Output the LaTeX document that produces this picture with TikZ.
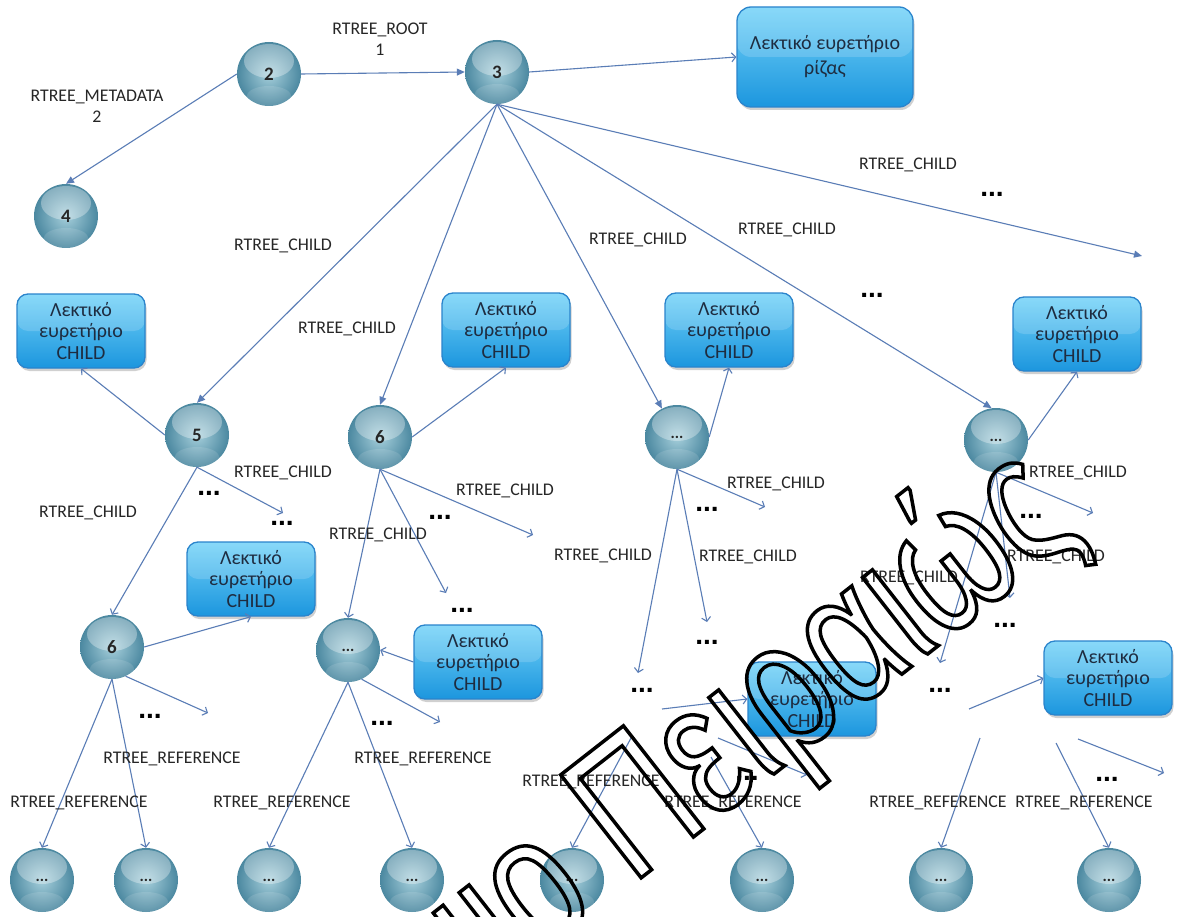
\documentclass[tikz,border=0pt]{standalone}
\usepackage{fontspec}
\setmainfont{Carlito}
\newfontfamily\dotfont{Liberation Sans}
\newfontfamily\markfont[FakeStretch=0.75]{Liberation Sans}
\usetikzlibrary{arrows.meta,shadows}

\definecolor{linkblue}{HTML}{5A7DB6}
\definecolor{balllight}{HTML}{A6CFDB}
\definecolor{balldark}{HTML}{4B88A0}
\definecolor{boxtop}{HTML}{72D2F8}
\definecolor{boxbot}{HTML}{1C96DE}
\definecolor{boxedge}{HTML}{2A84CC}
\definecolor{boxtext}{HTML}{1E2C40}

% hollow (stroked) text for the university mark
\newcommand\hollowtext[1]{\special{pdf:literal direct 1 Tr 3.5 w 0 0 0 RG}#1\special{pdf:literal direct 0 Tr}}

\tikzset{
  ball/.style={circle, minimum size=64pt, inner sep=0pt,
    inner color=balllight, outer color=balldark,
    font=\fontsize{19}{21}\selectfont\bfseries, text=black!85,
    path picture={
      \fill[white,opacity=0.32] ([yshift=13pt]path picture bounding box.center)
        ellipse [x radius=25pt, y radius=17pt];
      \fill[white,opacity=0.12] ([yshift=-22pt]path picture bounding box.center)
        ellipse [x radius=22pt, y radius=10pt];
    }},
  smallball/.style={ball, font=\fontsize{16}{18}\selectfont\bfseries},
  cbox/.style={rounded corners=11pt, draw=boxedge, line width=1.3pt,
    top color=boxtop, bottom color=boxbot,
    minimum width=128pt, minimum height=74pt, inner sep=2pt,
    align=center, text=boxtext, font=\fontsize{20}{21.5}\selectfont,
    drop shadow={shadow xshift=1.5pt, shadow yshift=-3pt, opacity=0.3, fill=black!60},
    path picture={
      \fill[white,opacity=0.16] (path picture bounding box.north west)
        rectangle (path picture bounding box.east);
    }},
  rootbox/.style={cbox, minimum width=176pt, minimum height=100pt,
    rounded corners=14pt, font=\fontsize{20}{25}\selectfont},
  lab/.style={font=\fontsize{17.8}{21}\selectfont, text=black!85, inner sep=0pt, align=center},
  dots/.style={font=\dotfont\bfseries\fontsize{28}{28}\selectfont, text=black, inner sep=0pt},
  linkline/.style={draw=linkblue, line width=1.1pt},
  bigarrow/.style={linkline, -{Triangle[length=8pt,width=7pt]}},
  thinarrow/.style={linkline, -{Straight Barb[length=4pt,width=9pt]}}
}

\begin{document}
\begin{tikzpicture}[x=1pt,y=-1pt]
\useasboundingbox (0,0) rectangle (1177,917);
\fill[white] (0,0) rectangle (1177,917);

% ---------- nodes ----------
\node[ball] (n2) at (269,74) {2};
\node[ball] (n3) at (497,72) {3};
\node[ball] (n4) at (66,216) {4};
\node[rootbox] (root) at (825,57) {Λεκτικό ευρετήριο\\ρίζας};

\node[ball] (n5) at (197,435) {5};
\node[ball] (n6a) at (380,437) {6};
\node[smallball] (n7) at (677,437) {...};
\node[smallball] (n8) at (996,440) {...};

\node[cbox] (A) at (81,331) {Λεκτικό\\ευρετήριο\\CHILD};
\node[cbox] (B) at (506,330) {Λεκτικό\\ευρετήριο\\CHILD};
\node[cbox] (C) at (729,330) {Λεκτικό\\ευρετήριο\\CHILD};
\node[cbox] (D) at (1077,334) {Λεκτικό\\ευρετήριο\\CHILD};

\node[ball] (n6b) at (112,647) {6};
\node[smallball] (n9) at (348,650) {...};
\node[cbox] (E) at (251,579) {Λεκτικό\\ευρετήριο\\CHILD};
\node[cbox] (F) at (478,662) {Λεκτικό\\ευρετήριο\\CHILD};
\node[cbox] (G) at (812,699) {Λεκτικό\\ευρετήριο\\CHILD};
\node[cbox] (H) at (1108,678) {Λεκτικό\\ευρετήριο\\CHILD};

\node[dots] (t7) at (642,690) {...};
\node[dots] (t8) at (940,690) {...};

\foreach \name/\xx in {b1/42,b2/146,b3/269,b4/412,b5/572,b6/762,b7/941,b8/1109}
  \node[smallball] (\name) at (\xx,880) {...};

% free ends and start points of the open branches
\coordinate (c3) at (1142,256);
\coordinate (c5) at (283,513);
\coordinate (c6a) at (446,593);
\coordinate (c6b) at (533,535);
\coordinate (c7a) at (638,673);
\coordinate (c7b) at (707,622);
\coordinate (c7c) at (765,507);
\coordinate (c8a) at (940,663);
\coordinate (c8b) at (1010,598);
\coordinate (c8c) at (1093,513);
\coordinate (c6bx) at (208,713);
\coordinate (c9x) at (440,722);
\coordinate (s7g) at (662,709);
\coordinate (s7l) at (631,738);
\coordinate (s7r) at (711,757);
\coordinate (s7f) at (718,738);
\coordinate (e7f) at (807,775);
\coordinate (s8h) at (969,709);
\coordinate (s8l) at (980,738);
\coordinate (s8r) at (1056,743);
\coordinate (s8f) at (1078,739);
\coordinate (e8f) at (1164,773);

% ---------- connectors ----------
\draw[bigarrow] (n2.west) -- (n4.north);
\draw[bigarrow] (n2.east) -- (n3.west);
\draw[thinarrow] (n3.east) -- (root.west);

\draw[bigarrow] (n3.south) -- (n5.north);
\draw[bigarrow] (n3.south) -- (n6a.north);
\draw[bigarrow] (n3.south) -- (n7.118);
\draw[bigarrow] (n3.south) -- (n8.98);
\draw[bigarrow] (n3.south) -- (c3);

\draw[thinarrow] (n5.west) -- (A.south);
\draw[thinarrow] (n5.south) -- (n6b.north);
\draw[thinarrow] (n5.south) -- (c5);

\draw[thinarrow] (n6a.east) -- (B.south);
\draw[thinarrow] (n6a.south) -- (n9.north);
\draw[thinarrow] (n6a.south) -- (c6a);
\draw[thinarrow] (n6a.south) -- (c6b);

\draw[thinarrow] (n7.east) -- (C.south);
\draw[thinarrow] (n7.south) -- (c7a);
\draw[thinarrow] (n7.south) -- (c7b);
\draw[thinarrow] (n7.south) -- (c7c);

\draw[thinarrow] (n8.east) -- (D.south);
\draw[thinarrow] (n8.south) -- (c8a);
\draw[thinarrow] (n8.south) -- (c8b);
\draw[thinarrow] (n8.south) -- (c8c);

\draw[thinarrow] (n6b.east) -- (E.south);
\draw[thinarrow] (n6b.south) -- (b1.north);
\draw[thinarrow] (n6b.south) -- (b2.north);
\draw[thinarrow] (n6b.-65) -- (c6bx);

\draw[thinarrow] (F.west) -- (n9.east);
\draw[thinarrow] (n9.south) -- (b3.north);
\draw[thinarrow] (n9.south) -- (b4.north);
\draw[thinarrow] (n9.-65) -- (c9x);

\draw[thinarrow] (s7g) -- (G.west);
\draw[thinarrow] (s7l) -- (b5.north);
\draw[thinarrow] (s7r) -- (b6.north);
\draw[thinarrow] (s7f) -- (e7f);

\draw[thinarrow] (s8h) -- (H.west);
\draw[thinarrow] (s8l) -- (b7.north);
\draw[thinarrow] (s8r) -- (b8.north);
\draw[thinarrow] (s8f) -- (e8f);

% ---------- edge labels ----------
\node[lab] (lroot) at (380,39) {RTREE\_ROOT\\1};
\node[lab] (lmeta) at (97,106) {RTREE\_METADATA\\2};

\foreach \xx/\yy [count=\i] in {283/246, 347/329, 638/240, 787/230, 908/165,
    283/473, 88/513, 505/491, 378/535, 603/556, 776/484, 748/557,
    1078/473, 1056/557, 909/578}
  \node[lab] (lc\i) at (\xx,\yy) {RTREE\_CHILD};

\foreach \xx/\yy [count=\i] in {79/803, 172/759, 282/803, 423/759,
    591/782, 733/803, 938/803, 1084/803}
  \node[lab] (lr\i) at (\xx,\yy) {RTREE\_REFERENCE};

\foreach \xx/\yy [count=\i] in {992/194, 872/295, 209/493, 282/523, 440/517,
    462/610, 707/509, 707/642, 1031/516, 1005/625, 150/716, 382/723,
    747/778, 1107/779}
  \node[dots] (d\i) at (\xx,\yy) {...};

% ---------- university mark ----------
\begin{scope}
\clip (0,0) rectangle (1177,917);
\node[anchor=base west, rotate=38, inner sep=0pt,
      font=\markfont\fontsize{190}{190}\selectfont] (mark) at (632,885)
  {\hollowtext{\llap{Πανεπιστήμιο\ }Πειραιώς}};
\end{scope}
\end{tikzpicture}
\end{document}
